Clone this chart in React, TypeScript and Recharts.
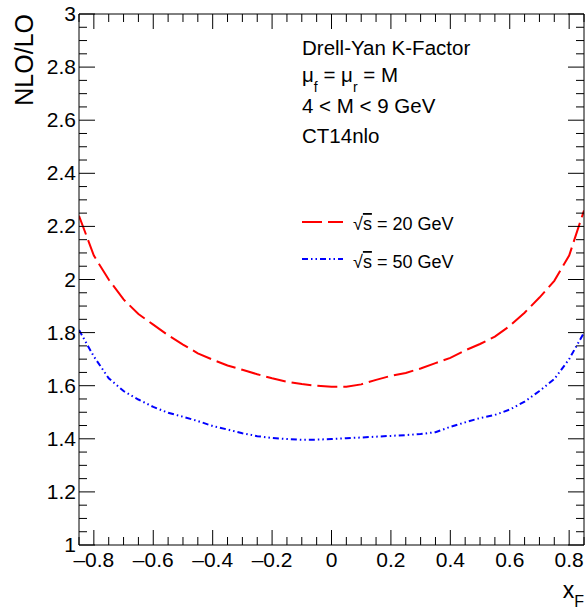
import { LineChart, Line, XAxis, YAxis } from "recharts";

// x_F sampling points
const xF = [
  -0.85, -0.8, -0.75, -0.7, -0.65, -0.6, -0.55, -0.5, -0.45, -0.4, -0.35, -0.3,
  -0.25, -0.2, -0.15, -0.1, -0.05, 0, 0.05, 0.1, 0.15, 0.2, 0.25, 0.3, 0.35,
  0.4, 0.45, 0.5, 0.55, 0.6, 0.65, 0.7, 0.75, 0.8, 0.85,
];

// K-factor, sqrt(s) = 20 GeV
const k20 = [
  2.24, 2.09, 2.0, 1.925, 1.87, 1.83, 1.79, 1.755, 1.722, 1.698, 1.676, 1.66,
  1.643, 1.628, 1.615, 1.606, 1.6, 1.596, 1.596, 1.605, 1.622, 1.637, 1.648,
  1.665, 1.685, 1.705, 1.733, 1.757, 1.785, 1.825, 1.875, 1.932, 1.995, 2.09,
  2.26,
];

// K-factor, sqrt(s) = 50 GeV
const k50 = [
  1.81, 1.71, 1.628, 1.58, 1.548, 1.52, 1.498, 1.483, 1.467, 1.448, 1.435,
  1.421, 1.41, 1.403, 1.399, 1.396, 1.397, 1.399, 1.402, 1.405, 1.408, 1.411,
  1.414, 1.418, 1.425, 1.445, 1.462, 1.478, 1.49, 1.51, 1.54, 1.58, 1.625,
  1.7, 1.8,
];

const xMajor = [-0.8, -0.6, -0.4, -0.2, 0, 0.2, 0.4, 0.6, 0.8];
const yMajor = [1, 1.2, 1.4, 1.6, 1.8, 2, 2.2, 2.4, 2.6, 2.8, 3];

const legendValues = ["20 GeV", "50 GeV"];
const infoLines = ["Drell-Yan K-Factor", "4 < M < 9 GeV", "CT14nlo"];

// minor ticks every 0.05
const xTicks: number[] = [];
for (let i = -17; i <= 17; i++) xTicks.push(Math.round(i * 5) / 100);
const yTicks: number[] = [];
for (let i = 20; i <= 60; i++) yTicks.push(Math.round(i * 5) / 100);

const data = xF.map((x, i) => ({ x, k20: k20[i], k50: k50[i] }));

const FONT = "'Liberation Sans', Arial, Helvetica, sans-serif";
const W = 587;
const H = 612;
const RED_DASH = "20 6";
const BLUE_DASH = "6 3 1.5 3 1.5 3";

const isMajor = (v: number, majors: number[]) =>
  majors.some((m) => Math.abs(m - v) < 1e-6);

const fmt = (v: number) => {
  if (Math.abs(v) < 1e-6) return "0";
  const s = Math.abs(v).toFixed(1).replace(/\.0$/, "");
  return v < 0 ? "\u2013" + s : s;
};

function BottomTick(props: any) {
  const { x, y, payload } = props;
  const major = isMajor(payload.value, xMajor);
  return (
    <g>
      <line x1={x} y1={y} x2={x} y2={y - (major ? 15 : 8)} stroke="#000" />
      {major && (
        <text x={x} y={y + 22} textAnchor="middle" fontSize={21} fontFamily={FONT} fill="#000">
          {fmt(payload.value)}
        </text>
      )}
    </g>
  );
}

function TopTick(props: any) {
  const { x, y, payload } = props;
  const major = isMajor(payload.value, xMajor);
  return <line x1={x} y1={y} x2={x} y2={y + (major ? 15 : 8)} stroke="#000" />;
}

function LeftTick(props: any) {
  const { x, y, payload } = props;
  const major = isMajor(payload.value, yMajor);
  return (
    <g>
      <line x1={x} y1={y} x2={x + (major ? 16 : 8)} y2={y} stroke="#000" />
      {major && (
        <text x={x - 3} y={y + 7} textAnchor="end" fontSize={21} fontFamily={FONT} fill="#000">
          {fmt(payload.value)}
        </text>
      )}
    </g>
  );
}

function RightTick(props: any) {
  const { x, y, payload } = props;
  const major = isMajor(payload.value, yMajor);
  return <line x1={x} y1={y} x2={x - (major ? 16 : 8)} y2={y} stroke="#000" />;
}

function SqrtS() {
  return (
    <>
      √<tspan textDecoration="overline">s</tspan>
    </>
  );
}

export default function App() {
  return (
    <div style={{ position: "absolute", left: 0, top: 0, width: W, height: H, background: "#fff" }}>
      <LineChart width={W} height={H} data={data} margin={{ top: 0, right: 0, bottom: 0, left: 0 }}>
        <XAxis
          dataKey="x"
          type="number"
          domain={[-0.85, 0.85]}
          allowDataOverflow
          ticks={xTicks}
          interval={0}
          height={67}
          tickSize={0}
          tickMargin={0}
          tickLine={false}
          axisLine={{ stroke: "#000" }}
          tick={<BottomTick />}
        />
        <XAxis
          xAxisId="top"
          dataKey="x"
          orientation="top"
          type="number"
          domain={[-0.85, 0.85]}
          allowDataOverflow
          ticks={xTicks}
          interval={0}
          height={14}
          tickSize={0}
          tickMargin={0}
          tickLine={false}
          axisLine={{ stroke: "#000" }}
          tick={<TopTick />}
        />
        <YAxis
          type="number"
          domain={[1, 3]}
          allowDataOverflow
          ticks={yTicks}
          interval={0}
          width={79}
          tickSize={0}
          tickMargin={0}
          tickLine={false}
          axisLine={{ stroke: "#000" }}
          tick={<LeftTick />}
        />
        <YAxis
          yAxisId="right"
          orientation="right"
          type="number"
          domain={[1, 3]}
          allowDataOverflow
          ticks={yTicks}
          interval={0}
          width={3}
          tickSize={0}
          tickMargin={0}
          tickLine={false}
          axisLine={{ stroke: "#000" }}
          tick={<RightTick />}
        />
        {/* invisible series so the mirrored frame axes get a scale */}
        <Line
          xAxisId="top"
          yAxisId="right"
          dataKey="k50"
          stroke="none"
          dot={false}
          activeDot={false}
          isAnimationActive={false}
        />
        <Line
          dataKey="k20"
          type="linear"
          stroke="#ff0000"
          strokeWidth={2}
          strokeDasharray={RED_DASH}
          dot={false}
          isAnimationActive={false}
        />
        <Line
          dataKey="k50"
          type="linear"
          stroke="#0000ff"
          strokeWidth={2}
          strokeDasharray={BLUE_DASH}
          dot={false}
          isAnimationActive={false}
        />
      </LineChart>

      <svg
        width={W}
        height={H}
        style={{ position: "absolute", left: 0, top: 0, pointerEvents: "none" }}
        fontFamily={FONT}
      >
        {/* axis titles */}
        <text x={33} y={14} transform="rotate(-90 33 14)" textAnchor="end" fontSize={25} fill="#000">
          NLO/LO
        </text>
        <text x={584} y={598} textAnchor="end" fontSize={23} fill="#000">
          x<tspan fontSize={16} dy={9}>F</tspan>
        </text>

        {/* info text */}
        <g fontSize={20.5} fill="#000">
          <text x={302} y={55}>{infoLines[0]}</text>
          <text x={302} y={82}>
            μ<tspan fontSize={14} dy={10}>f</tspan>
            <tspan dy={-10}> = μ</tspan>
            <tspan fontSize={14} dy={10}>r</tspan>
            <tspan dy={-10}> = M</tspan>
          </text>
          <text x={302} y={113}>{infoLines[1]}</text>
          <text x={302} y={143}>{infoLines[2]}</text>
        </g>

        {/* legend */}
        <line x1={302} y1={222} x2={343} y2={222} stroke="#ff0000" strokeWidth={2} strokeDasharray={RED_DASH} />
        <text x={353} y={230} fontSize={18} fill="#000">
          <SqrtS /> = {legendValues[0]}
        </text>
        <line x1={302} y1={259} x2={343} y2={259} stroke="#0000ff" strokeWidth={2} strokeDasharray={BLUE_DASH} />
        <text x={353} y={268} fontSize={18} fill="#000">
          <SqrtS /> = {legendValues[1]}
        </text>
      </svg>
    </div>
  );
}
